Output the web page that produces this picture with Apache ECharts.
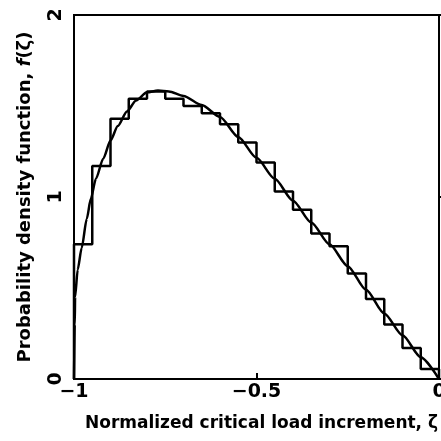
<!DOCTYPE html>
<html>
<head>
<meta charset="utf-8">
<script src="https://cdn.jsdelivr.net/npm/echarts@6/dist/echarts.min.js"></script>
<style>
html, body { margin: 0; padding: 0; background: #fff; }
#chart-container { width: 441px; height: 441px; }
</style>
</head>
<body>
<div id="chart-container"></div>
<script>
// histogram bin left edges and heights (bin width 0.05)
let binEdges = [-1, -0.95, -0.9, -0.85, -0.8, -0.75, -0.7, -0.65, -0.6, -0.55,
    -0.5, -0.45, -0.4, -0.35, -0.3, -0.25, -0.2, -0.15, -0.1, -0.05];
let binHeights = [0.74, 1.17, 1.43, 1.54, 1.58, 1.54, 1.50, 1.46, 1.40, 1.30,
    1.19, 1.03, 0.93, 0.80, 0.73, 0.58, 0.44, 0.30, 0.17, 0.055];

// density curve
let curveX = [-1, -0.998, -0.997, -0.99, -0.979, -0.965, -0.954, -0.94, -0.92, -0.9,
    -0.88, -0.855, -0.83, -0.8, -0.77, -0.74, -0.7, -0.65, -0.6, -0.55,
    -0.5, -0.45, -0.4, -0.35, -0.3, -0.25, -0.2, -0.15, -0.1, -0.05, 0];
let curveY = [0, 0.3, 0.45, 0.6, 0.72, 0.88, 0.99, 1.1, 1.21, 1.31,
    1.39, 1.47, 1.53, 1.575, 1.585, 1.58, 1.555, 1.505, 1.44, 1.33,
    1.215, 1.10, 0.98, 0.86, 0.74, 0.62, 0.49, 0.36, 0.24, 0.12, 0];

let xTicks = [-1, -0.5, 0];
let yTicks = [0, 1, 2];

let histData = [[-1, 0]];
binEdges.forEach(function (x, i) {
    histData.push([x, binHeights[i]]);
});
histData.push([0, binHeights[binHeights.length - 1]]);
histData.push([0, 0]);

let curveData = curveX.map(function (x, i) {
    return [x, curveY[i]];
});

let dom = document.getElementById("chart-container");
let myChart = echarts.init(dom, null, { renderer: "canvas" });

let labelFont = "DejaVu Sans";

let option = {
    animation: false,
    grid: {
        left: 74,
        right: 2,
        top: 15,
        bottom: 62,
        outerBoundsMode: "none",
        show: true,
        borderColor: "#000",
        borderWidth: 2,
        backgroundColor: "transparent",
    },
    xAxis: {
        type: "value",
        min: -1,
        max: 0,
        interval: 0.5,
        name: "Normalized critical load increment, ζ",
        nameLocation: "middle",
        nameGap: 36,
        nameTextStyle: {
            fontFamily: labelFont,
            fontWeight: "bold",
            fontSize: 17,
            color: "#000",
            padding: [0, 0, 0, 10],
        },
        axisLine: { show: true, lineStyle: { color: "#000", width: 2 } },
        axisTick: { show: true, inside: true, length: 6, lineStyle: { color: "#000", width: 2 } },
        splitLine: { show: false },
        axisLabel: {
            margin: 4,
            fontFamily: labelFont,
            fontWeight: "bold",
            fontSize: 19,
            color: "#000",
            formatter: function (v) {
                if (xTicks.indexOf(v) < 0) return "";
                return v === 0 ? "0" : String(v).replace("-", "\u2212");
            },
        },
    },
    yAxis: {
        type: "value",
        min: 0,
        max: 2,
        interval: 1,
        name: "Probability density function, {i|f}(ζ)",
        nameLocation: "middle",
        nameGap: 40,
        nameTextStyle: {
            fontFamily: labelFont,
            fontWeight: "bold",
            fontSize: 18,
            color: "#000",
            rich: {
                i: {
                    fontFamily: labelFont,
                    fontStyle: "italic",
                    fontWeight: "bold",
                    fontSize: 18,
                    color: "#000",
                },
            },
        },
        axisLine: { show: true, lineStyle: { color: "#000", width: 2 } },
        axisTick: { show: true, inside: true, length: 6, lineStyle: { color: "#000", width: 2 } },
        splitLine: { show: false },
        axisLabel: {
            rotate: 90,
            margin: 8,
            fontFamily: labelFont,
            fontWeight: "bold",
            fontSize: 19,
            color: "#000",
            formatter: function (v) {
                return yTicks.indexOf(v) < 0 ? "" : String(v);
            },
        },
    },
    series: [
        {
            name: "histogram",
            type: "line",
            step: "end",
            data: histData,
            showSymbol: false,
            lineStyle: { color: "#000", width: 2.5 },
        },
        {
            name: "density",
            type: "line",
            smooth: 0.25,
            smoothMonotone: "x",
            data: curveData,
            showSymbol: false,
            lineStyle: { color: "#000", width: 2.5 },
        },
    ],
};

myChart.setOption(option);
window.addEventListener("resize", myChart.resize);
</script>
</body>
</html>
